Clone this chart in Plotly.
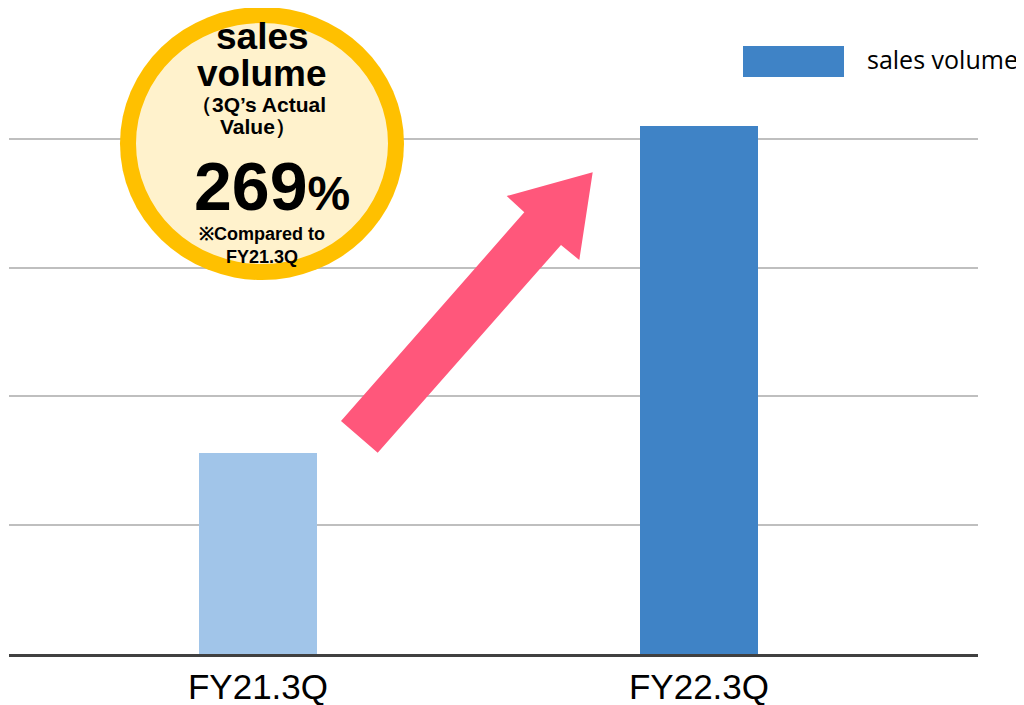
import plotly.graph_objects as go

# ---- data ----
categories = ["FY21.3Q", "FY22.3Q"]
sales_volume = [1.56, 4.10]
bar_colors = ["#A1C5E9", "#3F83C6"]
series_name = "sales volume"
badge_lines = ["sales", "volume", "（3Q’s Actual", "Value）"]
badge_pct = "269"
badge_note = ["※Compared to", "FY21.3Q"]

# page body has an 8px default margin -> work in window pixels, offset by 8
OFF = 8
W, H = 1024 - OFF, 705 - OFF
L, R, T, B = 9 - OFF, W - (978 - OFF), 10 - OFF, H - (654 - OFF)
PW, PH = W - L - R, H - T - B


def px(x):
    return (x - OFF - L) / PW


def py(y):
    return (H - B - (y - OFF)) / PH


fig = go.Figure()
fig.add_trace(go.Bar(
    x=categories, y=sales_volume, name=series_name,
    marker=dict(color=bar_colors, line=dict(width=0)),
    width=0.2676, showlegend=False,
))

shapes = []
# badge circle (ring + fill)
shapes.append(dict(type="circle", xref="paper", yref="paper",
                   x0=px(120), x1=px(404), y0=py(280), y1=py(7),
                   fillcolor="#FFC000", line=dict(width=0), layer="above"))
shapes.append(dict(type="circle", xref="paper", yref="paper",
                   x0=px(136), x1=px(388), y0=py(264), y1=py(23),
                   fillcolor="#FFF2CC", line=dict(width=0), layer="above"))
# arrow
arrow_pts = [(341, 421), (377.7, 452.7), (561, 245), (579.3, 260),
             (592.7, 172.3), (506.7, 196), (524.3, 212.3)]
path = "M " + " L ".join(f"{px(x):.5f},{py(y):.5f}" for x, y in arrow_pts) + " Z"
shapes.append(dict(type="path", xref="paper", yref="paper", path=path,
                   fillcolor="#FF577B", line=dict(width=0), layer="above"))
# legend swatch
shapes.append(dict(type="rect", xref="paper", yref="paper",
                   x0=px(743), x1=px(844), y0=py(77), y1=py(46),
                   fillcolor=bar_colors[1], line=dict(width=0), layer="above"))

annotations = []
bf = "Liberation Sans, Arial, sans-serif"
cx = 262


def ann(text, y, size, x=cx, xanchor="center", family=bf, color="black"):
    annotations.append(dict(text=text, x=px(x), y=py(y), xref="paper", yref="paper",
                            xanchor=xanchor, yanchor="middle", showarrow=False,
                            borderpad=0,
                            font=dict(family=family, size=size, color=color)))


ann(f"<b>{badge_lines[0]}</b>", 37, 37)
ann(f"<b>{badge_lines[1]}</b>", 73, 37)
ann(f"<b>{badge_lines[2]}</b>", 104, 21, x=258)
ann(f"<b>{badge_lines[3]}</b>", 127, 21, x=258)
ann(f"<b>{badge_pct}<span style='font-size:48px'>%</span></b>", 186, 68, x=272)
ann(f"<b>{badge_note[0]}</b>", 234, 18)
ann(f"<b>{badge_note[1]}</b>", 257, 18)
ann(series_name, 59, 25, x=866, xanchor="left", family="Open Sans, Noto Sans, sans-serif")

fig.update_layout(
    width=W, height=H,
    margin=dict(l=L, r=R, t=T, b=B, pad=0, autoexpand=False),
    paper_bgcolor="white", plot_bgcolor="white",
    shapes=shapes, annotations=annotations,
    bargap=0,
    xaxis=dict(range=[-0.5646, 1.6327], showgrid=False, showline=True,
               linecolor="#404040", linewidth=2.5, ticks="", automargin=False,
               tickfont=dict(family="Liberation Sans, Arial", size=35, color="black"),
               fixedrange=True),
    yaxis=dict(range=[0, 5], dtick=1, showgrid=True, gridcolor="#BFBFBF", gridwidth=2,
               showticklabels=False, zeroline=False, showline=False, fixedrange=True,
               automargin=False),
)

fig.write_html("out.html")
